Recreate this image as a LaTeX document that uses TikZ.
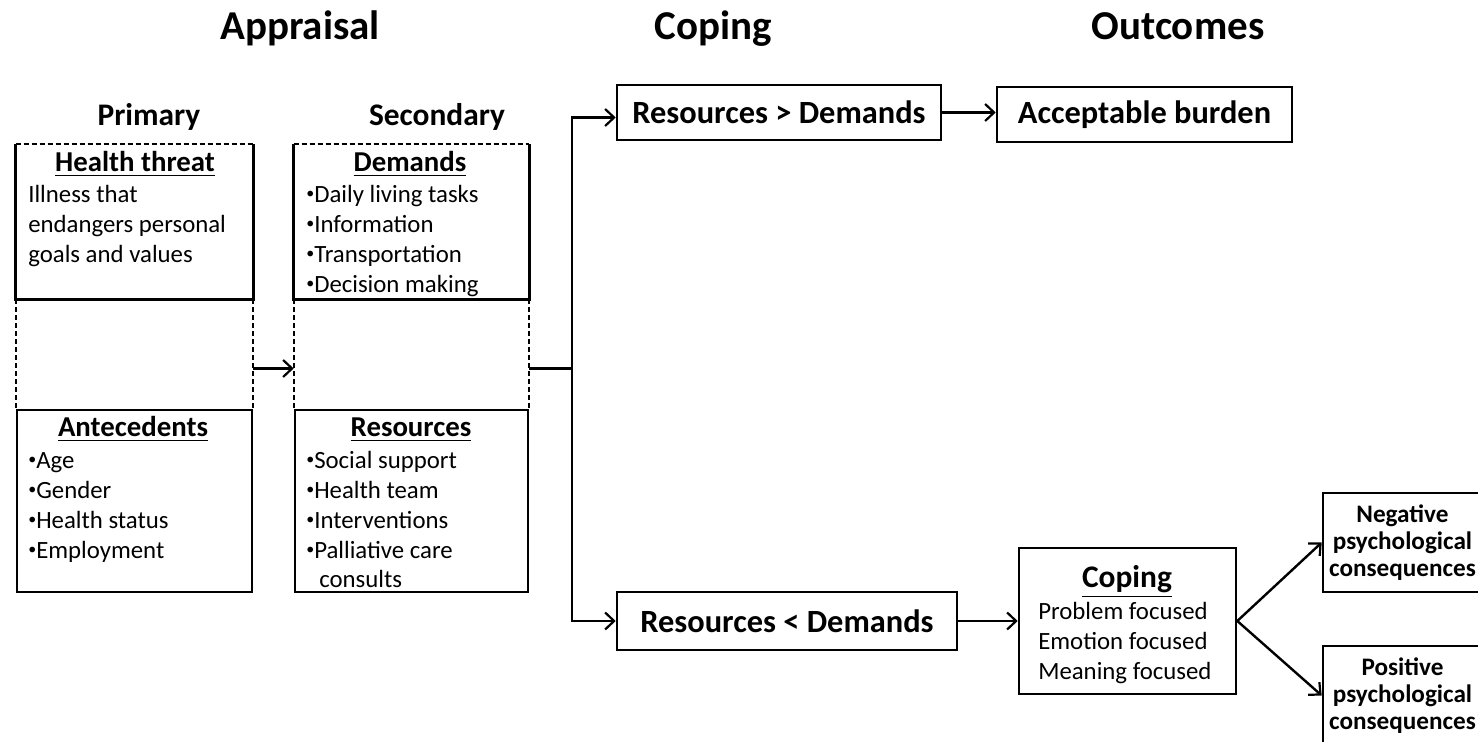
\documentclass[tikz,border=0pt]{standalone}
\usepackage{fontspec}
\setmainfont{Carlito}
\usetikzlibrary{arrows.meta,calc}
\newcommand\fBody{\fontsize{12.4}{15}\selectfont}
\newcommand\fTitle{\fontsize{14.4}{17}\selectfont\bfseries}
\newcommand\fHead{\fontsize{20.5}{24}\selectfont\bfseries}
\newcommand\fSub{\fontsize{15.7}{19}\selectfont\bfseries}
\newcommand\fMid{\fontsize{16.2}{19}\selectfont\bfseries}
\newcommand\fSmall{\fontsize{12.6}{13.5}\selectfont\bfseries}
\newcommand\bul{\raisebox{0.35ex}{\fontsize{8}{8}\selectfont •}}
\begin{document}
\begin{tikzpicture}[x=0.5pt,y=-0.5pt,
  line width=1.3pt,
  boxed/.style={draw, rectangle, inner sep=0pt, line width=1.3pt},
  frame/.style={rectangle, inner sep=0pt},
  txt/.style={inner sep=0pt, anchor=base west, font=\fBody},
  ttl/.style={inner sep=0pt, anchor=base, font=\fTitle},
  head/.style={inner sep=0pt, anchor=base, font=\fHead},
  dash line/.style={dash pattern=on 2.5pt off 1.5pt, line width=0.9pt},
  arr/.style={-{Straight Barb[length=4.5pt,width=8.5pt,line width=1.1pt]}, line width=1.2pt}]
\useasboundingbox (0,0) rectangle (1478,742);
\clip (0,0) rectangle (1478,742);

% headers
\node[head] (hApp) at (300,40) {Appraisal};
\node[head] (hCop) at (713,40) {Coping};
\node[head] (hOut) at (1178,40) {Outcomes};
\node[inner sep=0pt, anchor=base, font=\fSub] (hPri) at (149,126) {Primary};
\node[inner sep=0pt, anchor=base, font=\fSub] (hSec) at (437,126) {Secondary};

% primary column
\node[frame, minimum width=117.5pt, minimum height=223.5pt] (prim) at (134.5,368.5) {};
\node[frame, minimum width=117.5pt, minimum height=76.5pt] (ht) at (134.5,221.5) {};
\node[boxed, minimum width=117.5pt, minimum height=91pt] (ant) at (134.5,501) {};
\draw (ht.north west) -- (ht.south west) -- (ht.south east) -- (ht.north east);
\draw[dash line] (ht.north west) -- (ht.north east);
\draw[dash line] (ht.south west) -- (ant.north west);
\draw[dash line] (ht.south east) -- (ant.north east);

\node[ttl] (htT) at (135,172) {\underline{Health threat}};
\node[txt] (ht1) at (27,203) {Illness that};
\node[txt] (ht2) at (27,233) {endangers personal};
\node[txt] (ht3) at (27,263) {goals and values};

\node[ttl] (antT) at (133,437) {\underline{Antecedents}};
\node[txt] (an1) at (27,469) {\bul Age};
\node[txt] (an2) at (27,499) {\bul Gender};
\node[txt] (an3) at (27,529) {\bul Health status};
\node[txt] (an4) at (27,559) {\bul Employment};

% secondary column
\node[frame, minimum width=116.5pt, minimum height=223.5pt] (sec) at (411.5,368.5) {};
\node[frame, minimum width=116.5pt, minimum height=76.5pt] (dem) at (411.5,221.5) {};
\node[boxed, minimum width=116.5pt, minimum height=91pt] (res) at (411.5,501) {};
\draw (dem.north west) -- (dem.south west) -- (dem.south east) -- (dem.north east);
\draw[dash line] (dem.north west) -- (dem.north east);
\draw[dash line] (dem.south west) -- (res.north west);
\draw[dash line] (dem.south east) -- (res.north east);

\node[ttl] (demT) at (410,172) {\underline{Demands}};
\node[txt] (de1) at (305,203) {\bul Daily living tasks};
\node[txt] (de2) at (305,233) {\bul Information};
\node[txt] (de3) at (305,263) {\bul Transportation};
\node[txt] (de4) at (305,293) {\bul Decision making};

\node[ttl] (resT) at (411,437) {\underline{Resources}};
\node[txt] (re1) at (305,469) {\bul Social support};
\node[txt] (re2) at (305,499) {\bul Health team};
\node[txt] (re3) at (305,529) {\bul Interventions};
\node[txt] (re4) at (305,559) {\bul Palliative care};
\node[txt] (re5) at (318,588) {consults};

% coping column
\node[boxed, minimum width=162pt, minimum height=27.5pt, font=\fMid] (rgt) at (779,112.5) {Resources > Demands};
\node[boxed, minimum width=170pt, minimum height=29pt, font=\fMid] (rlt) at (787,621) {Resources < Demands};
\coordinate (split) at (572,368.5);

% outcomes
\node[boxed, minimum width=147.5pt, minimum height=27.5pt, font=\fMid] (acc) at (1144.5,114.5) {Acceptable burden};
\node[boxed, minimum width=108.5pt, minimum height=73pt] (cop) at (1127.5,621) {};
\node[inner sep=0pt, anchor=base, font=\fSub] (copT) at (1127,588) {\underline{Coping}};
\node[txt] (co1) at (1037,620) {Problem focused};
\node[txt] (co2) at (1037,650) {Emotion focused};
\node[txt] (co3) at (1037,680) {Meaning focused};
\node[boxed, minimum width=79.5pt, minimum height=49.5pt, align=center, font=\fSmall] (neg) at (1402.5,542.5) {Negative\\psychological\\consequences};
\node[boxed, minimum width=79.5pt, minimum height=49.5pt, align=center, font=\fSmall] (pos) at (1402.5,695.5) {Positive\\psychological\\consequences};

% connectors
\draw[arr] (prim.east) -- (sec.west);
\draw[line width=1.2pt] (sec.east) -- (split);
\draw[arr] (split) |- ([yshift=-2.5pt]rgt.west);
\draw[arr] (split) |- (rlt.west);
\draw[arr] (rgt.east) -- (rgt.east -| acc.west);
\draw[arr] (rlt.east) -- (cop.west);
\draw[arr] (cop.east) -- (neg.west);
\draw[arr] (cop.east) -- (pos.west);
\end{tikzpicture}
\end{document}
